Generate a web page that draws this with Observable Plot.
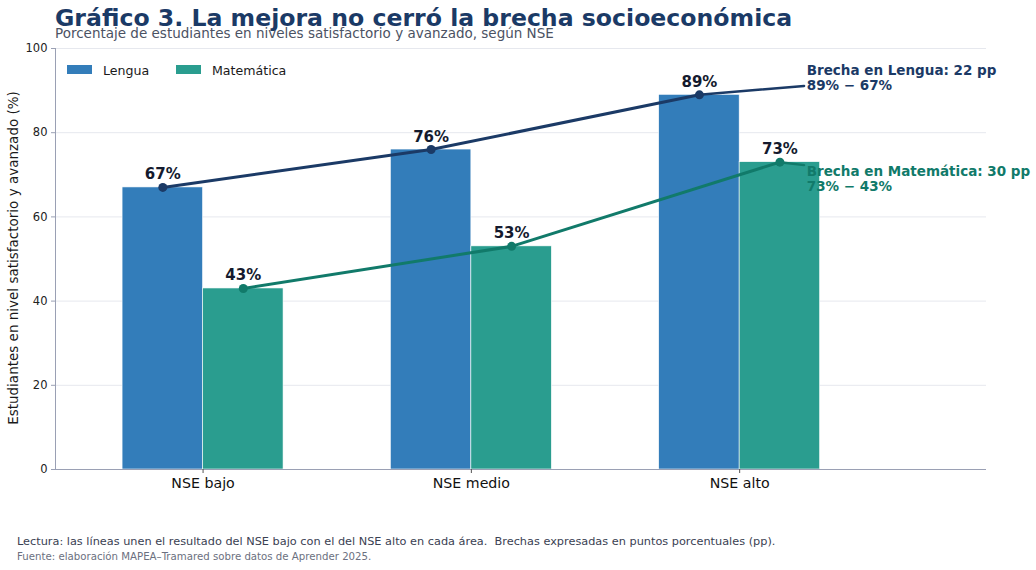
<!DOCTYPE html>
<html>
<head>
<meta charset="utf-8">
<script src="https://cdn.jsdelivr.net/npm/d3@7"></script>
<script src="https://cdn.jsdelivr.net/npm/@observablehq/plot@0.6"></script>
<style>
  html, body { margin: 0; padding: 0; background: #fff; }
  #wrap { position: relative; width: 1036px; height: 570px; font-family: "DejaVu Sans", sans-serif; overflow: hidden; }
  #wrap svg { position: absolute; left: 0; top: 0; overflow: visible; }
  .abs { position: absolute; line-height: 1; white-space: nowrap; }
  .sw { position: absolute; width: 25px; height: 9px; }
</style>
</head>
<body>
<div id="wrap">
  <div class="abs" id="title" style="left:55px; top:7.2px; font-size:23.6px; font-weight:bold; color:#1b3a66;"></div>
  <div class="abs" id="subtitle" style="left:55px; top:27px; font-size:13.5px; color:#4b5263;"></div>
  <div class="abs" id="ylabel" style="left:14px; top:258px; font-size:13.5px; color:#1a1a1a; transform: translate(-50%,-50%) rotate(-90deg);"></div>
  <div class="abs" id="note" style="left:17px; top:535.7px; font-size:11.3px; color:#3a4152;"></div>
  <div class="abs" id="source" style="left:17px; top:551.6px; font-size:10.2px; color:#6b7080;"></div>
  <div id="legend"></div>
</div>
<script>
// ---- data ----
const categories = ["NSE bajo", "NSE medio", "NSE alto"];
const lengua = [67, 76, 89];
const matematica = [43, 53, 73];
const yTicks = [0, 20, 40, 60, 80, 100];
const seriesNames = ["Lengua", "Matemática"];
const barColors = ["#337dba", "#2a9d8f"];
const lineColors = ["#1b3a66", "#117a6a"];
// annotations: text position (data units) and where the connector meets the text
const annText = ["Brecha en Lengua: 22 pp\n89% − 67%", "Brecha en Matemática: 30 pp\n73% − 43%"];
const annX = [2.25, 2.25];
const annY = [93, 69];
const annJoinX = [2.24, 2.24];
const annJoinY = [91.1, 72.3];

const titleText = "Gráfico 3. La mejora no cerró la brecha socioeconómica";
const subtitleText = "Porcentaje de estudiantes en niveles satisfactorio y avanzado, según NSE";
const yLabelText = "Estudiantes en nivel satisfactorio y avanzado (%)";
const noteText = "Lectura: las líneas unen el resultado del NSE bajo con el del NSE alto en cada área.  Brechas expresadas en puntos porcentuales (pp).";
const sourceText = "Fuente: elaboración MAPEA–Tramared sobre datos de Aprender 2025.";

document.getElementById("title").textContent = titleText;
document.getElementById("subtitle").textContent = subtitleText;
document.getElementById("ylabel").textContent = yLabelText;
document.getElementById("note").textContent = noteText;
document.getElementById("note").style.whiteSpace = "pre";
document.getElementById("source").textContent = sourceText;

// legend
const leg = document.getElementById("legend");
const legX = [67, 176];
seriesNames.forEach((n, i) => {
  const s = document.createElement("div");
  s.className = "sw";
  s.style.left = legX[i] + "px"; s.style.top = "65px"; s.style.background = barColors[i];
  leg.appendChild(s);
  const t = document.createElement("div");
  t.className = "abs";
  t.style.left = (legX[i] + 36) + "px"; t.style.top = "64.5px"; t.style.fontSize = "12.6px"; t.style.color = "#1a1a1a";
  t.textContent = n;
  leg.appendChild(t);
});

// ---- derived tables ----
const barW = 0.3;
const bars = [];
categories.forEach((c, i) => {
  bars.push({s: 0, x1: i - barW, x2: i, v: lengua[i]});
  bars.push({s: 1, x1: i, x2: i + barW, v: matematica[i]});
});
const pts = [
  lengua.map((v, i) => ({x: i - barW / 2, v})),
  matematica.map((v, i) => ({x: i + barW / 2, v}))
];
const connectors = [0, 1].map(k => [
  pts[k][2],
  {x: annJoinX[k], v: annJoinY[k]}
]);

const grid = "#e6e8ee";
const spine = "#9aa0b4";

const chart = Plot.plot({
  width: 1036,
  height: 570,
  marginTop: 48,
  marginLeft: 55,
  marginRight: 50,
  marginBottom: 101,
  style: {fontFamily: "DejaVu Sans", background: "transparent", overflow: "visible"},
  x: {type: "linear", domain: [-0.55, 2.92], axis: null},
  y: {domain: [0, 100], axis: null},
  marks: [
    Plot.ruleY(yTicks.filter(d => d > 0), {stroke: grid, strokeWidth: 1}),
    Plot.rectY(bars, {x1: "x1", x2: "x2", y: "v", fill: d => barColors[d.s], stroke: "white", strokeWidth: 0.6}),
    Plot.ruleX([-0.55], {stroke: spine, strokeWidth: 1}),
    Plot.ruleY([0], {stroke: spine, strokeWidth: 1}),
    Plot.axisY(yTicks, {tickSize: 4, tickPadding: 4, fontSize: 11.5, stroke: spine, fill: "#222", label: null}),
    Plot.axisX([0, 1, 2], {tickFormat: i => categories[i], tickSize: 4, tickPadding: 4, fontSize: 14.2, stroke: "#555", fill: "#111", label: null}),
    ...[0, 1].map(k => Plot.line(pts[k], {x: "x", y: "v", stroke: lineColors[k], strokeWidth: 3})),
    ...[0, 1].map(k => Plot.line(connectors[k], {x: "x", y: "v", stroke: lineColors[k], strokeWidth: 2.5})),
    ...[0, 1].map(k => Plot.dot(pts[k], {x: "x", y: "v", r: 4.5, fill: lineColors[k], stroke: "none"})),
    ...[0, 1].map(k => Plot.text(pts[k], {x: "x", y: "v", text: d => d.v + "%", fontSize: 15, fontWeight: "bold", fill: "#141a2e", lineAnchor: "bottom", dy: -8})),
    ...[0, 1].map(k => Plot.text([annText[k]], {x: () => annX[k], y: () => annY[k], text: d => d, textAnchor: "start", lineAnchor: "middle", lineHeight: 1.05, fontSize: 13.5, fontWeight: "bold", fill: lineColors[k]}))
  ]
});
document.getElementById("wrap").insertBefore(chart, document.getElementById("wrap").firstChild);
</script>
</body>
</html>
